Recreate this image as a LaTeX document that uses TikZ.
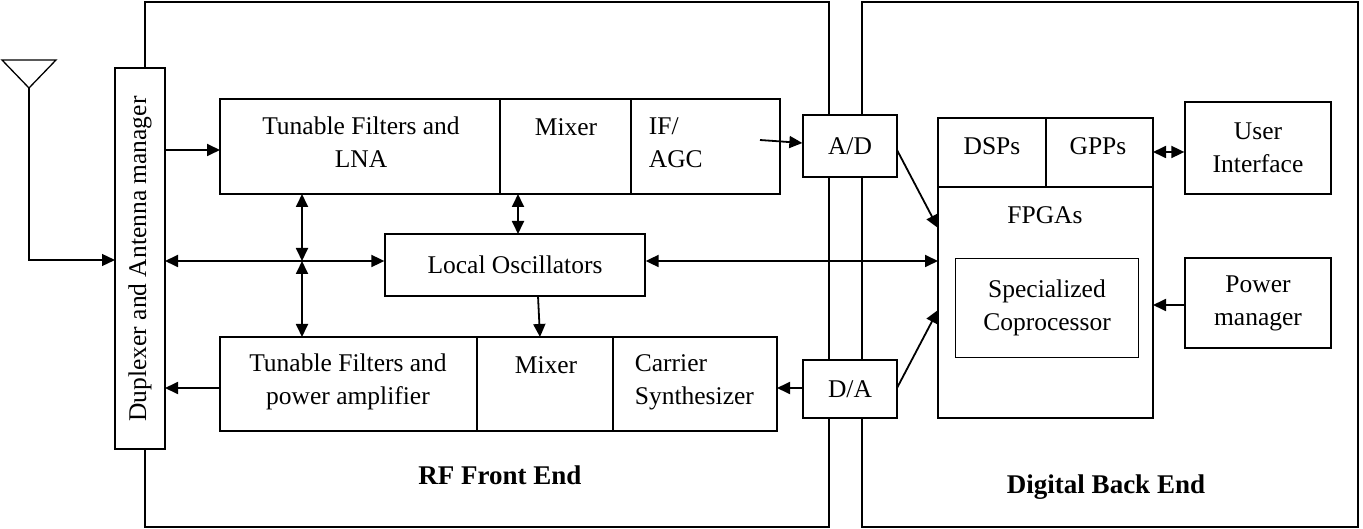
\documentclass[tikz,border=0pt]{standalone}
\usepackage{fontspec}
\setmainfont{Liberation Serif}
\usetikzlibrary{arrows.meta}
\begin{document}
\begin{tikzpicture}[x=1pt,y=-1pt,
  line width=1.8pt,
  box/.style={draw,line width=1.3pt},
  txt/.style={font=\fontsize{25.5}{33}\selectfont,align=center,inner sep=0pt},
  lbl/.style={font=\fontsize{27}{32}\selectfont\bfseries,inner sep=0pt},
  ar/.style={-{Triangle[length=13pt,width=12pt]}},
  dar/.style={{Triangle[length=13pt,width=12pt]}-{Triangle[length=13pt,width=12pt]}}]
\useasboundingbox (0,0) rectangle (1363,529);
% outer panels
\draw[box] (145,2) rectangle (829,527);
\draw[box] (862,2) rectangle (1358,527);
\node[lbl] (rfl) at (500,475) {RF Front End};
\node[lbl] (dbl) at (1106,487) {Digital Back End};
% antenna
\draw[line width=1.3pt] (2,60) -- (56,60) -- (29,88) -- cycle;
\coordinate (ant) at (29,88);
\coordinate (antc) at (29,260);
% duplexer
\draw[box,fill=white] (115,68) rectangle (165,449);
\node[txt,rotate=90,font=\fontsize{25.5}{30}\selectfont] (dup) at (140,259) {Duplexer and Antenna manager};
\draw[ar,line width=1.3pt] (ant) -- (antc) -- (115,260);
% top row
\draw[box] (220,99) rectangle (780,194);
\draw[box] (500,99) -- (500,194) (631,99) -- (631,194);
\node[txt] (tf) at (361,142) {Tunable Filters and\\LNA};
\node[txt] (mx1) at (566,127) {Mixer};
\node[txt,align=left,anchor=west] (if) at (648,143) {IF/\\AGC};
% bottom row
\draw[box] (220,337) rectangle (777,431);
\draw[box] (477,337) -- (477,431) (613,337) -- (613,431);
\node[txt] (tp) at (348,382) {Tunable Filters and\\power amplifier};
\node[txt] (mx2) at (546,365) {Mixer};
\node[txt,align=left,anchor=west] (cs) at (634,382) {Carrier\\Synthesizer};
% LO
\node[box,fill=white,minimum width=260pt,minimum height=62pt,txt] (lo) at (515,265) {Local Oscillators};
% A/D D/A
\node[box,fill=white,minimum width=94pt,minimum height=62pt,txt] (ad) at (850,146) {A/D};
\node[box,fill=white,minimum width=94pt,minimum height=58pt,txt] (da) at (850,389) {D/A};
% FPGA
\draw[box] (938,118) rectangle (1153,418);
\draw[box] (938,187) -- (1153,187) (1046,118) -- (1046,187);
\node[txt] (dsp) at (992,146) {DSPs};
\node[txt] (gpp) at (1098,146) {GPPs};
\node[txt] (fpga) at (1045,215) {FPGAs};
\node[box,minimum width=183pt,minimum height=99pt,txt] (cop) at (1047,308) {Specialized\\Coprocessor};
\node[box,minimum width=146pt,minimum height=92pt,txt] (ui) at (1258,148) {User\\Interface};
\node[box,minimum width=146pt,minimum height=90pt,txt] (pm) at (1258,303) {Power\\manager};
% connectors
\coordinate (j) at (302,261);
\draw[ar] (165,150) -- (220,150);
\draw[ar] (760,140) -- (ad.west|-0,143);
\draw[ar] (220,388) -- (165,388);
\draw[ar] (da.west|-0,388) -- (777,388);
\draw[dar] (302,194) -- (j);
\draw[dar] (j) -- (302,337);
\draw[dar] (165,261) -- (lo.west|-j);
\draw[dar] (518,194) -- (518,234);
\draw[ar] (538,296) -- (540,337);
\draw[dar] (lo.east|-j) -- (938,261);
\draw[ar] (897,150) -- (938,228);
\draw[ar] (897,388) -- (938,310);
\draw[dar] (1153,152) -- (ui.west|-0,152);
\draw[ar] (pm.west|-0,305) -- (1153,305);
\end{tikzpicture}
\end{document}
